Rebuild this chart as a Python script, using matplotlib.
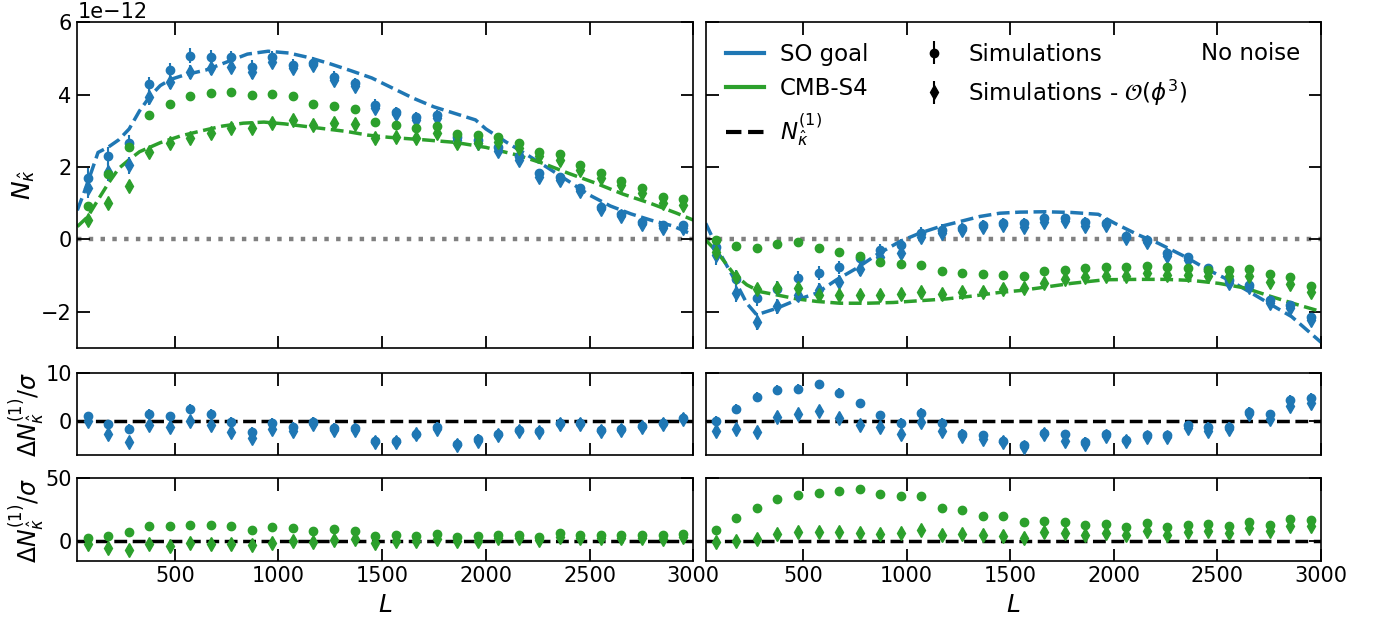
import numpy as np
import matplotlib
matplotlib.use("Agg")
import matplotlib.pyplot as plt
from matplotlib.lines import Line2D

# ---------------- data (N values in units of 1e-12) ----------------
L_centers = [79.5, 178.5, 277.5, 376.5, 475.5, 574.5, 673.5, 772.5, 871.5, 970.5,
             1069.5, 1168.5, 1267.5, 1366.5, 1465.5, 1564.5, 1663.5, 1762.5, 1861.5, 1960.5,
             2059.5, 2158.5, 2257.5, 2356.5, 2455.5, 2554.5, 2653.5, 2752.5, 2851.5, 2950.5]

left_so_sim = [1.69, 2.29, 2.65, 4.29, 4.68, 5.08, 5.05, 5.03, 4.77, 5.05,
               4.82, 4.87, 4.50, 4.31, 3.72, 3.53, 3.39, 3.44, 2.84, 2.75,
               2.56, 2.29, 1.82, 1.73, 1.41, 0.90, 0.70, 0.47, 0.38, 0.40]
left_so_sub = [1.43, 1.87, 2.04, 3.93, 4.36, 4.62, 4.73, 4.77, 4.62, 4.91,
               4.73, 4.82, 4.41, 4.24, 3.62, 3.46, 3.30, 3.35, 2.75, 2.65,
               2.44, 2.19, 1.73, 1.64, 1.34, 0.83, 0.63, 0.41, 0.30, 0.32]
left_s4_sim = [0.93, 1.80, 2.54, 3.44, 3.74, 3.95, 4.04, 4.06, 3.99, 4.01,
               3.95, 3.74, 3.69, 3.59, 3.23, 3.16, 3.07, 3.14, 2.90, 2.89,
               2.84, 2.66, 2.41, 2.35, 2.06, 1.82, 1.61, 1.43, 1.18, 1.11]
left_s4_sub = [0.52, 1.01, 1.48, 2.40, 2.65, 2.81, 2.93, 3.07, 3.07, 3.21,
               3.30, 3.16, 3.21, 3.18, 2.79, 2.82, 2.79, 2.93, 2.65, 2.65,
               2.70, 2.52, 2.29, 2.19, 1.92, 1.69, 1.50, 1.27, 1.00, 0.95]

right_so_sim = [-0.22, -1.11, -1.63, -1.37, -1.08, -0.94, -0.78, -0.53, -0.31, -0.17,
                0.18, 0.26, 0.30, 0.38, 0.44, 0.46, 0.60, 0.58, 0.49, 0.46,
                0.09, -0.02, -0.37, -0.50, -0.80, -1.12, -1.26, -1.68, -1.82, -2.14]
right_so_sub = [-0.43, -1.49, -2.28, -1.86, -1.54, -1.40, -1.17, -0.83, -0.50, -0.37,
                0.06, 0.17, 0.26, 0.33, 0.40, 0.35, 0.49, 0.50, 0.37, 0.40,
                0.03, -0.09, -0.46, -0.57, -0.89, -1.22, -1.33, -1.77, -1.91, -2.23]
right_s4_sim = [-0.03, -0.20, -0.23, -0.13, -0.09, -0.25, -0.34, -0.46, -0.62, -0.69,
                -0.72, -0.87, -0.94, -0.97, -1.00, -1.03, -0.89, -0.85, -0.80, -0.76,
                -0.77, -0.74, -0.77, -0.80, -0.85, -0.85, -0.83, -0.96, -1.05, -1.29]
right_s4_sub = [-0.35, -1.05, -1.38, -1.34, -1.35, -1.54, -1.54, -1.54, -1.54, -1.51,
                -1.47, -1.51, -1.47, -1.45, -1.38, -1.35, -1.20, -1.11, -1.05, -1.03,
                -1.01, -0.94, -0.99, -0.99, -1.03, -1.01, -1.03, -1.17, -1.24, -1.45]

so_err = [0.28, 0.25, 0.23, 0.21, 0.20, 0.20, 0.19, 0.18, 0.18, 0.17,
          0.17, 0.16, 0.16, 0.15, 0.15, 0.14, 0.14, 0.13, 0.13, 0.13,
          0.12, 0.12, 0.12, 0.11, 0.11, 0.11, 0.10, 0.10, 0.10, 0.10]
s4_err = [0.08, 0.07, 0.06, 0.06, 0.06, 0.05, 0.05, 0.05, 0.05, 0.05,
          0.05, 0.05, 0.05, 0.05, 0.05, 0.04, 0.04, 0.04, 0.04, 0.04,
          0.04, 0.04, 0.04, 0.04, 0.04, 0.04, 0.04, 0.04, 0.04, 0.04]

# theory N^(1) curves
left_so_th_L = [30, 60, 100, 130, 180, 230, 280, 330, 380, 430, 480, 550, 650, 750, 850, 950,
                1050, 1150, 1250, 1350, 1450, 1550, 1650, 1750, 1850, 1950, 2000, 2100, 2200,
                2300, 2400, 2500, 2600, 2700, 2800, 2900, 3000]
left_so_th = [0.80, 1.25, 1.90, 2.40, 2.55, 2.75, 3.05, 3.55, 3.95, 4.25, 4.42, 4.55, 4.68, 4.90,
              5.12, 5.20, 5.15, 5.02, 4.85, 4.66, 4.46, 4.18, 3.90, 3.66, 3.48, 3.30, 3.05,
              2.68, 2.33, 1.97, 1.60, 1.22, 0.92, 0.70, 0.52, 0.37, 0.12]
left_s4_th_L = [30, 80, 130, 180, 230, 280, 330, 430, 530, 630, 730, 830, 930, 1030, 1130,
                1230, 1330, 1430, 1530, 1700, 1850, 2000, 2150, 2275, 2400, 2530, 2660, 2790,
                2920, 3000]
left_s4_th = [0.35, 0.62, 1.09, 1.55, 1.96, 2.20, 2.42, 2.67, 2.86, 3.00, 3.13, 3.21, 3.24, 3.19,
              3.12, 3.05, 2.98, 2.88, 2.82, 2.75, 2.68, 2.54, 2.33, 2.10, 1.82, 1.55, 1.25,
              1.00, 0.72, 0.53]
right_so_th_L = [30, 99, 163, 228, 276, 373, 469, 566, 662, 759, 855, 968, 1064, 1161, 1258,
                 1354, 1450, 1547, 1668, 1796, 1925, 2005, 2118, 2214, 2343, 2456, 2569, 2665,
                 2762, 2858, 3000]
right_so_th = [0.44, -0.39, -1.05, -1.77, -2.09, -1.91, -1.68, -1.49, -1.12, -0.80, -0.43,
               -0.06, 0.17, 0.35, 0.49, 0.63, 0.72, 0.75, 0.76, 0.74, 0.69, 0.44, 0.12, -0.11,
               -0.48, -0.85, -1.17, -1.49, -1.82, -2.14, -2.85]
right_s4_th_L = [30, 83, 163, 228, 292, 373, 469, 566, 678, 807, 935, 1064, 1193, 1321, 1450,
                 1547, 1636, 1796, 1958, 2118, 2249, 2378, 2506, 2635, 2762, 2892, 3000]
right_s4_th = [-0.02, -0.34, -0.94, -1.26, -1.45, -1.54, -1.65, -1.72, -1.77, -1.77, -1.75,
               -1.70, -1.65, -1.57, -1.47, -1.42, -1.35, -1.22, -1.12, -1.11, -1.11, -1.14,
               -1.22, -1.35, -1.59, -1.82, -2.00]

# residuals Delta N^(1) / sigma
left_so_res_sim = [1.0, -0.7, -1.6, 1.55, 1.0, 2.5, 1.55, -0.2, -2.3, -0.35,
                   -1.3, -0.1, -1.5, -1.5, -4.1, -4.1, -2.7, -1.3, -4.8, -3.8,
                   -2.7, -1.8, -2.1, -0.35, -0.4, -1.8, -1.6, -1.0, -0.4, 0.7]
left_so_res_sub = [0.1, -2.8, -4.3, -0.9, -1.3, 0.1, -0.9, -2.2, -3.5, -1.6,
                   -2.0, -0.6, -1.8, -1.8, -4.3, -4.4, -2.8, -1.6, -5.0, -4.1,
                   -2.9, -2.0, -2.3, -0.6, -0.6, -2.0, -1.8, -1.3, -0.6, 0.4]
left_s4_res_sim = [3.1, 4.5, 7.1, 11.8, 12.3, 12.6, 12.6, 11.8, 9.2, 11.3,
                   11.0, 8.4, 9.7, 7.9, 4.5, 5.2, 4.5, 5.8, 3.4, 4.5,
                   5.2, 5.2, 3.9, 6.5, 5.2, 5.2, 5.2, 4.7, 4.7, 5.8]
left_s4_res_sub = [-1.8, -5.2, -6.5, -2.1, -3.4, -1.6, -2.1, -2.1, -3.1, -1.3,
                   0.5, -0.5, 1.3, 1.8, -1.3, 0.0, 0.5, 1.8, 0.0, 0.5,
                   2.6, 2.6, 1.3, 3.9, 2.6, 2.6, 2.6, 2.6, 2.1, 3.9]
right_so_res_sim = [0.1, 2.6, 5.1, 6.5, 6.7, 7.7, 5.9, 3.7, 1.2, -0.35,
                    1.7, -0.35, -2.7, -3.0, -4.1, -5.1, -2.5, -2.8, -4.4, -2.8,
                    -3.9, -3.0, -3.0, -0.9, -1.3, -1.3, 1.9, 1.4, 4.4, 4.9]
right_so_res_sub = [-2.0, -1.6, -2.3, 0.85, 1.4, 2.1, 0.6, -0.9, -1.3, -2.8,
                    -0.2, -2.0, -3.2, -3.7, -4.4, -5.5, -2.8, -4.1, -4.8, -3.2,
                    -4.2, -3.4, -3.4, -1.4, -2.0, -1.6, 1.4, 0.5, 3.1, 3.8]
right_s4_res_sim = [8.7, 18.5, 26.5, 33.6, 36.5, 38.1, 39.4, 41.0, 37.3, 36.2,
                    35.7, 26.2, 24.9, 20.1, 20.1, 15.6, 16.4, 15.3, 13.0, 14.0,
                    11.1, 14.6, 11.1, 12.7, 13.8, 11.9, 15.6, 13.2, 17.7, 16.7]
right_s4_res_sub = [-0.8, 0.0, 1.9, 5.8, 7.1, 7.4, 7.1, 6.6, 6.1, 6.6,
                    8.7, 5.3, 5.8, 4.8, 4.5, 2.6, 7.1, 6.6, 5.3, 6.6,
                    5.3, 8.5, 5.3, 7.4, 7.9, 6.6, 10.6, 8.5, 11.9, 11.9]
res_err = 1.0

legend_labels = ["SO goal", "CMB-S4", r"$N^{(1)}_{\hat{\kappa}}$",
                 "Simulations", r"Simulations - $\mathcal{O}(\phi^3)$"]
panel_note = "No noise"

SCALE = 1e-12
C_SO = "#1f77b4"
C_S4 = "#2ca02c"

# ---------------- figure ----------------
plt.rcParams["font.family"] = "DejaVu Sans"
plt.rcParams["xtick.labelsize"] = 15
plt.rcParams["ytick.labelsize"] = 15

W, H = 1395, 621
fig = plt.figure(figsize=(W / 100, H / 100), dpi=100)

def rect(x0, x1, y0, y1):
    return [x0 / W, 1 - y1 / H, (x1 - x0) / W, (y1 - y0) / H]

colx = [(77.3, 693.3), (705.7, 1321.0)]
rowy = [(22.3, 347.7), (373.3, 454.5), (478.0, 560.5)]

axes = [[fig.add_axes(rect(cx[0], cx[1], ry[0], ry[1])) for cx in colx] for ry in rowy]

L = np.array(L_centers)
ms_o, ms_d = 6, 7.5

def style(ax):
    ax.set_xlim(30, 3000)
    ax.set_xticks([500, 1000, 1500, 2000, 2500, 3000])
    ax.tick_params(direction="in", length=9, width=1.3, top=True, right=True,
                   labelsize=15, pad=4)
    for s in ax.spines.values():
        s.set_linewidth(1.2)

# top row
tops = [(left_so_th_L, left_so_th, left_s4_th_L, left_s4_th,
         left_so_sim, left_so_sub, left_s4_sim, left_s4_sub),
        (right_so_th_L, right_so_th, right_s4_th_L, right_s4_th,
         right_so_sim, right_so_sub, right_s4_sim, right_s4_sub)]
for j, (soL, soT, s4L, s4T, sos, sod, s4s, s4d) in enumerate(tops):
    ax = axes[0][j]
    ax.axhline(0, color="gray", ls=":", lw=3.2, zorder=1)
    ax.plot(soL, np.array(soT) * SCALE, color=C_SO, ls="--", lw=2.5, zorder=2)
    ax.plot(s4L, np.array(s4T) * SCALE, color=C_S4, ls="--", lw=2.5, zorder=2)
    ax.errorbar(L, np.array(sos) * SCALE, yerr=np.array(so_err) * SCALE, fmt="o",
                color=C_SO, ms=ms_o, elinewidth=1.5, zorder=3)
    ax.errorbar(L, np.array(sod) * SCALE, yerr=np.array(so_err) * SCALE, fmt="d",
                color=C_SO, ms=ms_d, elinewidth=1.5, zorder=3)
    ax.errorbar(L, np.array(s4s) * SCALE, yerr=np.array(s4_err) * SCALE, fmt="o",
                color=C_S4, ms=ms_o, elinewidth=1.5, zorder=4)
    ax.errorbar(L, np.array(s4d) * SCALE, yerr=np.array(s4_err) * SCALE, fmt="d",
                color=C_S4, ms=ms_d, elinewidth=1.5, zorder=4)
    ax.set_ylim(-3 * SCALE, 6 * SCALE)
    ax.set_yticks(np.array([-2, 0, 2, 4, 6]) * SCALE)
    style(ax)
    ax.tick_params(labelbottom=False)
    if j == 1:
        ax.tick_params(labelleft=False)

# residual rows
res = [[(left_so_res_sim, left_so_res_sub), (right_so_res_sim, right_so_res_sub)],
       [(left_s4_res_sim, left_s4_res_sub), (right_s4_res_sim, right_s4_res_sub)]]
rcol = [C_SO, C_S4]
rlim = [(-7, 10), (-15, 50)]
rticks = [[0, 10], [0, 50]]
for i in range(2):
    for j in range(2):
        ax = axes[i + 1][j]
        sim, sub = res[i][j]
        ax.axhline(0, color="k", ls="--", lw=2.5, zorder=1)
        ax.errorbar(L, sim, yerr=res_err, fmt="o", color=rcol[i], ms=ms_o,
                    elinewidth=1.5, zorder=3)
        ax.errorbar(L, sub, yerr=res_err, fmt="d", color=rcol[i], ms=ms_d,
                    elinewidth=1.5, zorder=3)
        ax.set_ylim(*rlim[i])
        ax.set_yticks(rticks[i])
        style(ax)
        if i == 0:
            ax.tick_params(labelbottom=False)
        else:
            ax.set_xlabel(r"$L$", fontsize=18, labelpad=5)
        if j == 1:
            ax.tick_params(labelleft=False)

# y labels
fig.text(24 / W, 1 - 185 / H, r"$N_{\hat{\kappa}}$", rotation=90, fontsize=18,
         ha="center", va="center")
fig.text(27 / W, 1 - 414 / H, r"$\Delta N^{(1)}_{\hat{\kappa}}/\sigma$", rotation=90,
         fontsize=17, ha="center", va="center")
fig.text(27 / W, 1 - 520 / H, r"$\Delta N^{(1)}_{\hat{\kappa}}/\sigma$", rotation=90,
         fontsize=17, ha="center", va="center")

# legend
axr = axes[0][1]
h_so = Line2D([], [], color=C_SO, lw=3)
h_s4 = Line2D([], [], color=C_S4, lw=3)
h_n1 = Line2D([], [], color="k", lw=3, ls="--")
h_sim = axr.errorbar([np.nan], [np.nan], yerr=[1], fmt="o", color="k", ms=ms_o)
h_sub = axr.errorbar([np.nan], [np.nan], yerr=[1], fmt="d", color="k", ms=ms_d)
axr.legend([h_so, h_s4, h_n1, h_sim, h_sub], legend_labels, ncol=2, frameon=False,
           fontsize=16.5, loc="upper left", handlelength=1.65, handletextpad=0.7,
           columnspacing=2.0)
axr.text((1300 - 705.7) / 615.3, (347.7 - 53) / 325.4, panel_note, fontsize=16.5,
         ha="right", va="center", transform=axr.transAxes)

fig.savefig("out.png", dpi=100)
